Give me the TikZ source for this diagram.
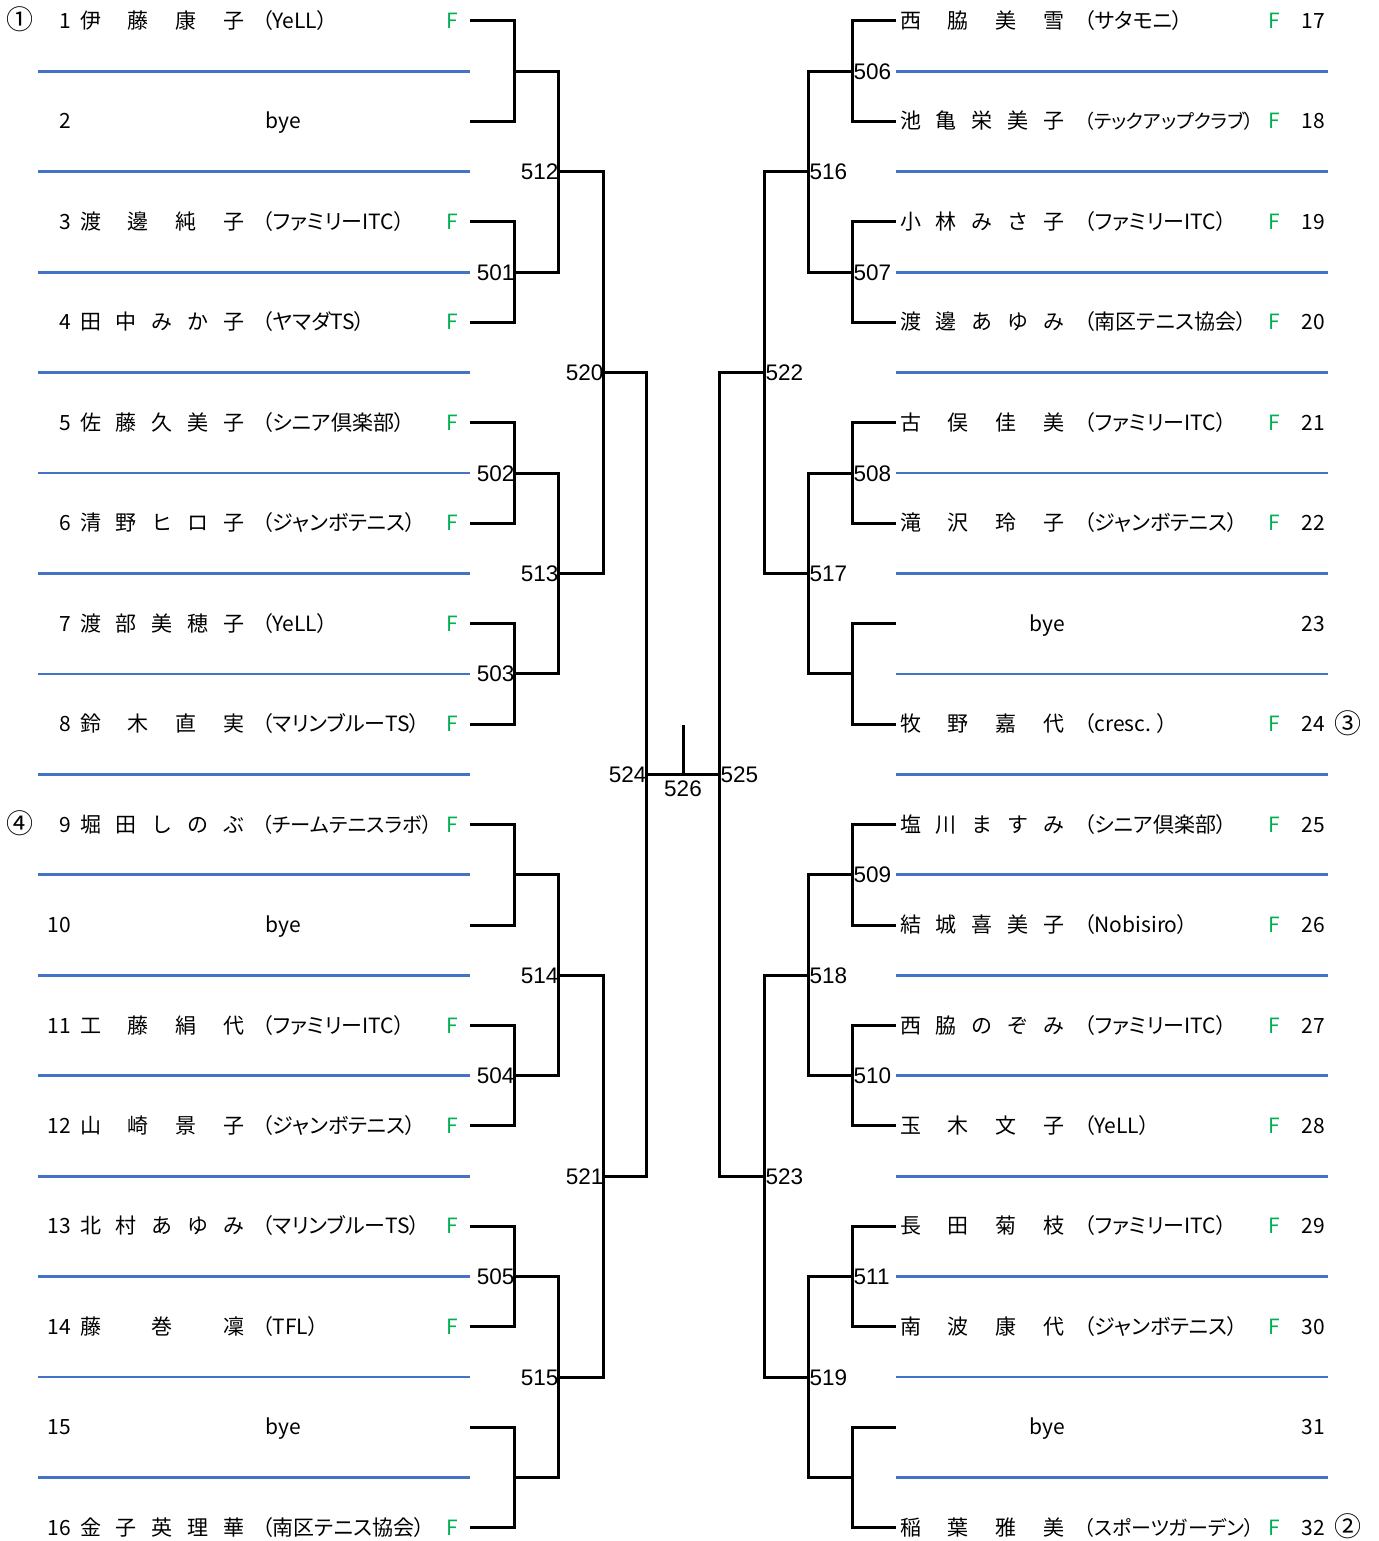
\documentclass[tikz,border=0pt]{standalone}
\usepackage{fontspec}
\usepackage{graphicx}
\usetikzlibrary{positioning}
\setmainfont{Liberation Sans}
\newfontfamily\jp{Noto Sans CJK JP}
\newfontfamily\jpp{Noto Sans CJK JP}[RawFeature=+palt]
\definecolor{sepblue}{HTML}{4472C4}
\definecolor{fgreen}{HTML}{00B050}
\newcommand\rowfont{\jp\fontsize{21}{24}\selectfont}
\newcommand\nmbox[1]{\makebox[164pt][s]{#1}}
\newsavebox\clubbox
\newcommand\club[1]{\sbox\clubbox{\jpp\fontsize{21}{24}\selectfont #1}%
  \ifdim\wd\clubbox>170pt\resizebox{170pt}{!}{\usebox\clubbox}\else\usebox\clubbox\fi}
\def\rh{100.45}

\begin{document}
\begin{tikzpicture}[
    x=1pt, y=-1pt,
    bk/.style={draw=black, line width=3pt},
    sep/.style={draw=sepblue, line width=2.8pt},
    txt/.style={inner sep=0pt, font=\rowfont},
    num/.style={txt, anchor=base east},
    nm/.style={txt, anchor=base west},
    flag/.style={txt, anchor=base, text=fgreen},
    seed/.style={inner sep=0pt, anchor=base, font=\jp\fontsize{27}{30}\selectfont},
    mlab/.style={inner sep=0pt, font=\fontsize{22.5}{26}\selectfont},
    mlabl/.style={mlab, anchor=base east},
    mlabr/.style={mlab, anchor=base west}
]
  \useasboundingbox (0,0) rectangle (1378,1541);

  % Row ends
  \foreach \i in {1,...,16}{
    \pgfmathsetmacro\yy{21+(\i-1)*\rh}
    \pgfmathtruncatemacro\j{\i+16}
    \coordinate (p\i) at (470,\yy);
    \coordinate (p\j) at (896,\yy);
  }

  % Separator lines
  \foreach \k in {1,...,15}{
    \pgfmathsetmacro\yy{21+(\k-0.5)*\rh}
    \draw[sep] (38,\yy) -- (470,\yy);
    \draw[sep] (896,\yy) -- (1328,\yy);
  }

  % Left players
  \foreach \i/\nme/\cl in {1/{伊 藤 康 子}/{（YeLL）}, 3/{渡 邊 純 子}/{（ファミリーITC）},
      4/{田 中 み か 子}/{（ヤマダTS）}, 5/{佐 藤 久 美 子}/{（シニア倶楽部）},
      6/{清 野 ヒ ロ 子}/{（ジャンボテニス）}, 7/{渡 部 美 穂 子}/{（YeLL）},
      8/{鈴 木 直 実}/{（マリンブルーTS）}, 9/{堀 田 し の ぶ}/{（チームテニスラボ）},
      11/{工 藤 絹 代}/{（ファミリーITC）}, 12/{山 崎 景 子}/{（ジャンボテニス）},
      13/{北 村 あ ゆ み}/{（マリンブルーTS）}, 14/{藤 巻 凜}/{（TFL）},
      16/{金 子 英 理 華}/{（南区テニス協会）}}{
    \pgfmathsetmacro\yy{21+(\i-1)*\rh+7.5}
    \node[num] (n\i) at (71,\yy) {\i};
    \node[nm] (nm\i) at (80,\yy) {\nmbox{\nme}};
    \node[nm] (c\i) at (262,\yy) {\club{\cl}};
    \node[flag] (f\i) at (452,\yy) {F};
  }
  \foreach \i in {2,10,15}{
    \pgfmathsetmacro\yy{21+(\i-1)*\rh+7.5}
    \node[num] (n\i) at (71,\yy) {\i};
    \node[txt, anchor=base] (b\i) at (283,\yy) {bye};
  }

  % Right players
  \foreach \j/\nme/\cl in {17/{西 脇 美 雪}/{（サタモニ）}, 18/{池 亀 栄 美 子}/{（テックアップクラブ）},
      19/{小 林 み さ 子}/{（ファミリーITC）}, 20/{渡 邊 あ ゆ み}/{（南区テニス協会）},
      21/{古 俣 佳 美}/{（ファミリーITC）}, 22/{滝 沢 玲 子}/{（ジャンボテニス）},
      24/{牧 野 嘉 代}/{（cresc. ）}, 25/{塩 川 ま す み}/{（シニア倶楽部）},
      26/{結 城 喜 美 子}/{（Nobisiro）}, 27/{西 脇 の ぞ み}/{（ファミリーITC）},
      28/{玉 木 文 子}/{（YeLL）}, 29/{長 田 菊 枝}/{（ファミリーITC）},
      30/{南 波 康 代}/{（ジャンボテニス）}, 32/{稲 葉 雅 美}/{（スポーツガーデン）}}{
    \pgfmathsetmacro\yy{21+(\j-17)*\rh+7.5}
    \node[nm] (nm\j) at (900,\yy) {\nmbox{\nme}};
    \node[nm] (c\j) at (1084,\yy) {\club{\cl}};
    \node[flag] (f\j) at (1274,\yy) {F};
    \node[num] (n\j) at (1325,\yy) {\j};
  }
  \foreach \j in {23,31}{
    \pgfmathsetmacro\yy{21+(\j-17)*\rh+7.5}
    \node[num] (n\j) at (1325,\yy) {\j};
    \node[txt, anchor=base] (b\j) at (1047,\yy) {bye};
  }

  % Seeds
  \node[seed] (s1) at (20,30) {①};
  \node[seed] (s4) at (20,{21+8*\rh+9}) {④};
  \node[seed] (s3) at (1348,{21+7*\rh+9}) {③};
  \node[seed] (s2) at (1348,{21+15*\rh+9}) {②};

  % Match points
  \foreach \m/\x/\r in {q1/514/1.5, m501/514/3.5, m502/514/5.5, m503/514/7.5,
      q9/514/9.5, m504/514/11.5, m505/514/13.5, q15/514/15.5,
      m512/558/2.5, m513/558/6.5, m514/558/10.5, m515/558/14.5,
      m520/603/4.5, m521/603/12.5, m524/646/8.5,
      m506/852/1.5, m507/852/3.5, m508/852/5.5, q23/852/7.5,
      m509/852/9.5, m510/852/11.5, m511/852/13.5, q31/852/15.5,
      m516/808/2.5, m517/808/6.5, m518/808/10.5, m519/808/14.5,
      m522/764/4.5, m523/764/12.5, m525/719/8.5, m526/683/8.5}{
    \pgfmathsetmacro\yy{21+(\r-1)*\rh}
    \coordinate (\m) at (\x,\yy);
  }
  \coordinate (champ) at (683,725);

  % Brackets
  \foreach \a/\b/\m in {p1/p2/q1, p3/p4/m501, p5/p6/m502, p7/p8/m503,
      p9/p10/q9, p11/p12/m504, p13/p14/m505, p15/p16/q15,
      p17/p18/m506, p19/p20/m507, p21/p22/m508, p23/p24/q23,
      p25/p26/m509, p27/p28/m510, p29/p30/m511, p31/p32/q31,
      q1/m501/m512, m502/m503/m513, q9/m504/m514, m505/q15/m515,
      m506/m507/m516, m508/q23/m517, m509/m510/m518, m511/q31/m519,
      m512/m513/m520, m514/m515/m521, m516/m517/m522, m518/m519/m523,
      m520/m521/m524, m522/m523/m525}
    \draw[bk] (\a) -| (\m) |- (\b);
  \draw[bk] (m524) -- (m525);
  \draw[bk] (m526) -- (champ);

  % Match numbers
  \foreach \m in {501,502,503,504,505,512,513,514,515,520,521,524}
    \node[mlabl] (t\m) at ([xshift=0.5pt, yshift=-8pt]m\m) {\m};
  \foreach \m in {506,507,508,509,510,511,516,517,518,519,522,523,525}
    \node[mlabr] (t\m) at ([xshift=1.5pt, yshift=-8pt]m\m) {\m};
  \node[mlab, below=6pt of m526] (t526) {526};
\end{tikzpicture}
\end{document}
